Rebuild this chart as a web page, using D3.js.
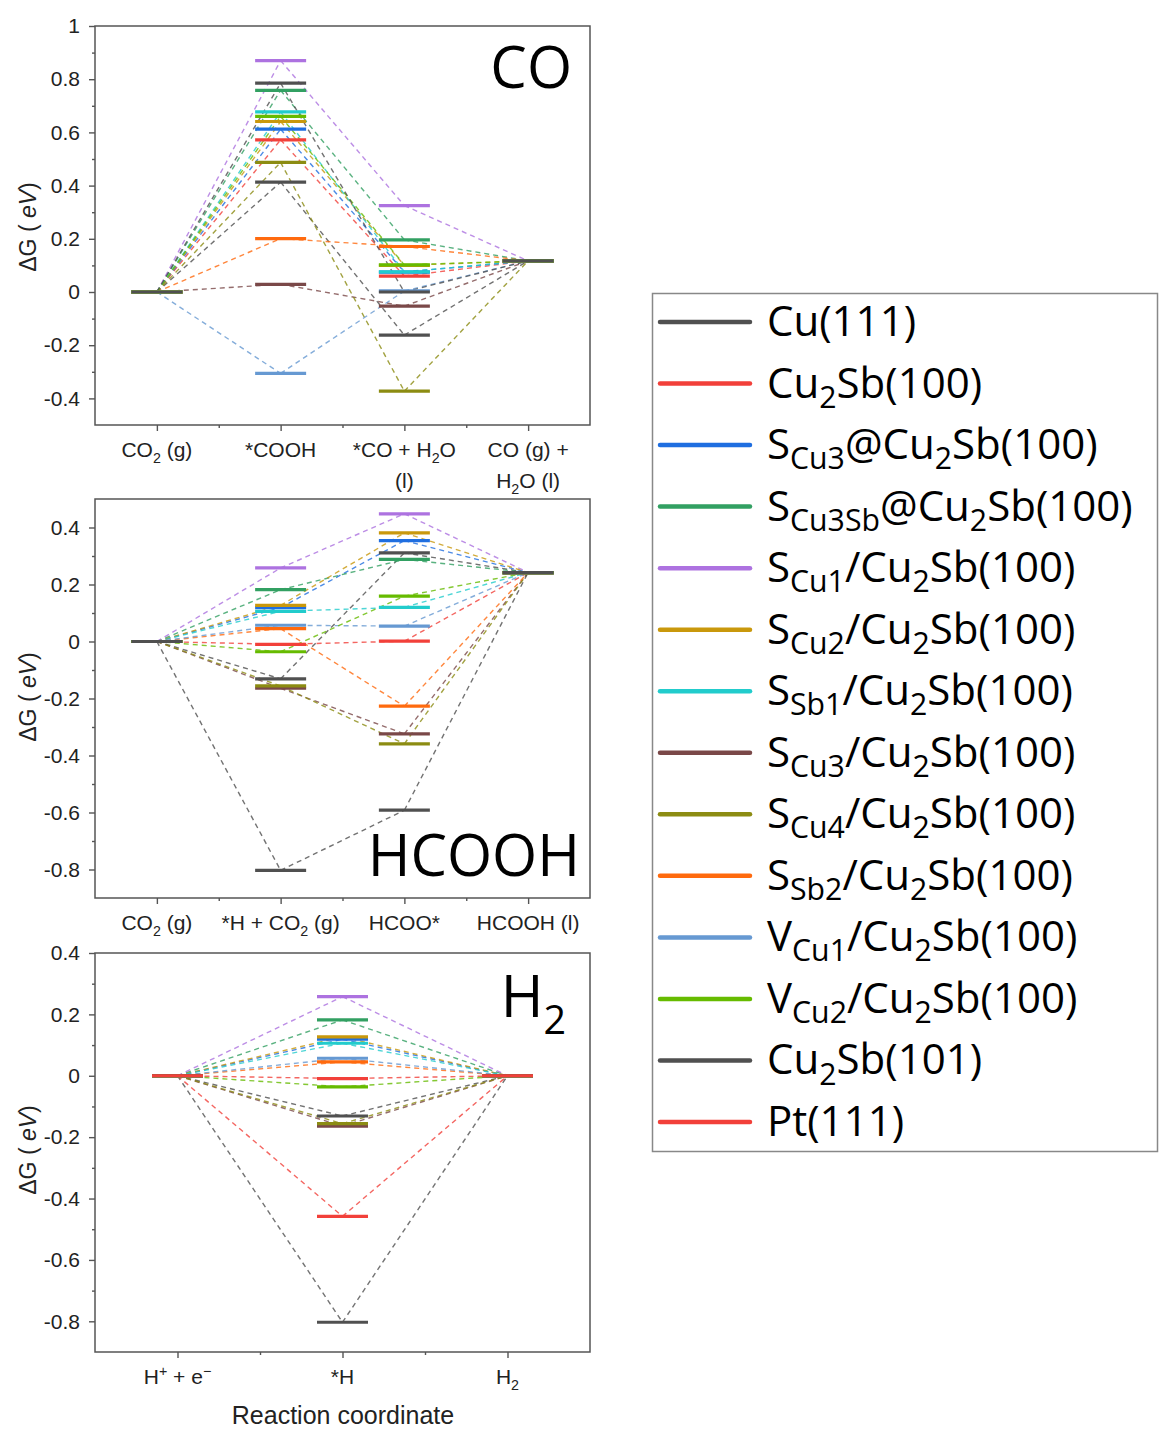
<!DOCTYPE html>
<html>
<head>
<meta charset="utf-8">
<script src="https://cdn.jsdelivr.net/npm/d3@7"></script>
<style>
  html, body { margin: 0; padding: 0; background: #fff; }
  svg { display: block; }
</style>
</head>
<body>
<svg id="chart" width="1159" height="1429"></svg>
<script>
// Surfaces (series), in drawing order
const seriesNames = [
  "Cu(111)", "Cu_{2}Sb(100)", "S_{Cu3}@Cu_{2}Sb(100)", "S_{Cu3Sb}@Cu_{2}Sb(100)",
  "S_{Cu1}/Cu_{2}Sb(100)", "S_{Cu2}/Cu_{2}Sb(100)", "S_{Sb1}/Cu_{2}Sb(100)",
  "S_{Cu3}/Cu_{2}Sb(100)", "S_{Cu4}/Cu_{2}Sb(100)", "S_{Sb2}/Cu_{2}Sb(100)",
  "V_{Cu1}/Cu_{2}Sb(100)", "V_{Cu2}/Cu_{2}Sb(100)", "Cu_{2}Sb(101)", "Pt(111)"
];
const seriesColors = [
  "#505050", "#f2403a", "#1f6ee0", "#32a062", "#ad72e0", "#c9980c", "#22cccc",
  "#7a4848", "#8c8c12", "#ff6a0e", "#6699d2", "#66bb00", "#505050", "#f2403a"
];

// CO pathway
const coSteps = [["CO_{2} (g)"], ["*COOH"], ["*CO + H_{2}O", "(l)"], ["CO (g) +", "H_{2}O (l)"]];
const coValues = [
  [0, 0.413, -0.162, 0.117],
  [0, 0.572, 0.060, 0.117],
  [0, 0.612, 0.075, 0.117],
  [0, 0.758, 0.196, 0.117],
  [0, 0.870, 0.325, 0.117],
  [0, 0.641, 0.100, 0.117],
  [0, 0.677, 0.076, 0.117],
  [0, 0.029, -0.053, 0.117],
  [0, 0.487, -0.373, 0.117],
  [0, 0.201, 0.171, 0.117],
  [0, -0.306, 0.004, 0.117],
  [0, 0.660, 0.102, 0.117],
  [0, 0.785, 0.000, 0.117]
];
const coTicks = [-0.4, -0.2, 0, 0.2, 0.4, 0.6, 0.8, 1];

// HCOOH pathway
const hcoohSteps = [["CO_{2} (g)"], ["*H + CO_{2} (g)"], ["HCOO*"], ["HCOOH (l)"]];
const hcoohValues = [
  [0, -0.131, 0.311, 0.242],
  [0, -0.010, 0.001, 0.242],
  [0, 0.119, 0.354, 0.242],
  [0, 0.182, 0.288, 0.242],
  [0, 0.258, 0.448, 0.242],
  [0, 0.127, 0.381, 0.242],
  [0, 0.106, 0.120, 0.242],
  [0, -0.164, -0.324, 0.242],
  [0, -0.156, -0.359, 0.242],
  [0, 0.045, -0.227, 0.242],
  [0, 0.057, 0.054, 0.242],
  [0, -0.036, 0.159, 0.242],
  [0, -0.803, -0.592, 0.242]
];
const hcoohTicks = [-0.8, -0.6, -0.4, -0.2, 0, 0.2, 0.4];

// Hydrogen evolution
const h2Steps = [["H^{+} + e^{−}"], ["*H"], ["H_{2}"]];
const h2Values = [
  [0, -0.131, 0],
  [0, -0.009, 0],
  [0, 0.119, 0],
  [0, 0.182, 0],
  [0, 0.258, 0],
  [0, 0.127, 0],
  [0, 0.106, 0],
  [0, -0.164, 0],
  [0, -0.156, 0],
  [0, 0.045, 0],
  [0, 0.057, 0],
  [0, -0.036, 0],
  [0, -0.803, 0],
  [0, -0.458, 0]
];
const h2Ticks = [-0.8, -0.6, -0.4, -0.2, 0, 0.2, 0.4];

const svg = d3.select("#chart");
const axisFont = "'Liberation Sans', Arial, sans-serif";
const labelFont = "'Open Sans', 'Noto Sans', sans-serif";
const frameColor = "#555";
const tickFs = 21;

// Text with _{sub} and ^{sup} markup, written as tspans
function richText(textSel, str, fs, subScale = 0.68, subShift = 0.3) {
  const re = /([_^])\{([^}]*)\}|([^_^]+)/g;
  let shift = 0, m;
  while ((m = re.exec(str))) {
    if (m[3]) {
      textSel.append("tspan").attr("dy", -shift).text(m[3]);
      shift = 0;
    } else {
      const s = m[1] === "_" ? fs * subShift : -fs * 0.4;
      textSel.append("tspan").attr("dy", s - shift)
        .style("font-size", (fs * subScale) + "px").text(m[2]);
      shift = s;
    }
  }
}

const panels = [
  { steps: coSteps, values: coValues, domain: [-0.5, 1], top: 26, bottom: 425,
    ticks: coTicks, title: "CO", titleX: 572, titleY: 88, yLabelY: 227 },
  { steps: hcoohSteps, values: hcoohValues, domain: [-0.9, 0.5], top: 499, bottom: 898,
    ticks: hcoohTicks, title: "HCOOH", titleX: 580, titleY: 876, yLabelY: 697 },
  { steps: h2Steps, values: h2Values, domain: [-0.9, 0.4], top: 953, bottom: 1352,
    ticks: h2Ticks, title: "H_{2}", titleX: 566, titleY: 1017, yLabelY: 1150,
    xTitle: "Reaction coordinate" }
];

const left = 95, right = 590, barHalf = 25.5;

panels.forEach(p => {
  const n = p.steps.length;
  const x = d3.scaleLinear().domain([0.5, n + 0.5]).range([left, right]);
  const y = d3.scaleLinear().domain(p.domain).range([p.bottom, p.top]);
  const g = svg.append("g");

  // minor y ticks at odd tenths inside the frame
  const minorY = d3.range(Math.round(p.domain[0] * 10), Math.round(p.domain[1] * 10) + 1)
    .filter(k => Math.abs(k) % 2 === 1 && k / 10 > p.domain[0] && k / 10 < p.domain[1])
    .map(k => k / 10);
  const minorX = d3.range(1, n).map(i => i + 0.5);

  const yAxis = g.append("g").attr("transform", `translate(${left},0)`)
    .call(d3.axisLeft(y).tickValues(p.ticks).tickSize(6).tickPadding(9)
      .tickFormat(v => String(+v.toFixed(1))));
  yAxis.select(".domain").remove();
  yAxis.selectAll("line").attr("stroke", frameColor).attr("stroke-width", 1.4);
  yAxis.selectAll("text").style("font-family", axisFont).style("font-size", tickFs + "px")
    .attr("fill", "#222");
  g.append("g").attr("transform", `translate(${left},0)`)
    .call(d3.axisLeft(y).tickValues(minorY).tickSize(3).tickFormat(""))
    .call(a => a.select(".domain").remove())
    .selectAll("line").attr("stroke", frameColor).attr("stroke-width", 1.4);

  const xAxis = g.append("g").attr("transform", `translate(0,${p.bottom})`)
    .call(d3.axisBottom(x).tickValues(d3.range(1, n + 1)).tickSize(6).tickFormat(""));
  xAxis.select(".domain").remove();
  xAxis.selectAll("line").attr("stroke", frameColor).attr("stroke-width", 1.4);
  g.append("g").attr("transform", `translate(0,${p.bottom})`)
    .call(d3.axisBottom(x).tickValues(minorX).tickSize(3).tickFormat(""))
    .call(a => a.select(".domain").remove())
    .selectAll("line").attr("stroke", frameColor).attr("stroke-width", 1.4);

  // category labels
  p.steps.forEach((lines, i) => {
    lines.forEach((ln, j) => {
      const t = g.append("text").attr("x", x(i + 1)).attr("y", p.bottom + 32 + j * 31)
        .attr("text-anchor", "middle").style("font-family", axisFont)
        .style("font-size", tickFs + "px").attr("fill", "#222");
      richText(t, ln, tickFs);
    });
  });

  // y label
  const yl = g.append("text").attr("transform", `translate(36,${p.yLabelY}) rotate(-90)`)
    .attr("text-anchor", "middle").style("font-family", axisFont)
    .style("font-size", "23px").attr("fill", "#222");
  yl.append("tspan").text("ΔG ( ");
  yl.append("tspan").style("font-style", "italic").text("eV");
  yl.append("tspan").text(")");

  // connecting dashed lines (centre to centre)
  const lines = g.append("g");
  p.values.forEach((vals, s) => {
    for (let i = 0; i < vals.length - 1; i++) {
      lines.append("line")
        .attr("x1", x(i + 1)).attr("y1", y(vals[i]))
        .attr("x2", x(i + 2)).attr("y2", y(vals[i + 1]))
        .attr("stroke", seriesColors[s]).attr("stroke-width", 1.4)
        .attr("stroke-dasharray", "5,4").attr("opacity", 0.8);
    }
  });

  // energy levels
  const bars = g.append("g");
  p.values.forEach((vals, s) => {
    vals.forEach((v, i) => {
      bars.append("line")
        .attr("x1", x(i + 1) - barHalf).attr("x2", x(i + 1) + barHalf)
        .attr("y1", y(v)).attr("y2", y(v))
        .attr("stroke", seriesColors[s]).attr("stroke-width", 3.2);
    });
  });

  // frame
  g.append("rect").attr("x", left).attr("y", p.top)
    .attr("width", right - left).attr("height", p.bottom - p.top)
    .attr("fill", "none").attr("stroke", frameColor).attr("stroke-width", 1.5);

  // panel title
  const tt = g.append("text").attr("x", p.titleX).attr("y", p.titleY)
    .attr("text-anchor", "end").style("font-family", labelFont)
    .style("font-size", "58px").attr("fill", "#000");
  richText(tt, p.title, 58);

  if (p.xTitle) {
    g.append("text").attr("x", 343).attr("y", 1424)
      .attr("text-anchor", "middle").style("font-family", axisFont)
      .style("font-size", "25px").attr("fill", "#222").text(p.xTitle);
  }
});

// legend
const legend = svg.append("g");
legend.append("rect").attr("x", 652.5).attr("y", 293.5).attr("width", 505).attr("height", 858)
  .attr("fill", "#fff").attr("stroke", "#888").attr("stroke-width", 1.5);
const rowY = d3.scalePoint().domain(d3.range(seriesNames.length)).range([322, 1122]);
seriesNames.forEach((name, i) => {
  const yy = rowY(i);
  legend.append("line").attr("x1", 660).attr("x2", 750).attr("y1", yy).attr("y2", yy)
    .attr("stroke", seriesColors[i]).attr("stroke-width", 4.5).attr("stroke-linecap", "round");
  const t = legend.append("text").attr("x", 767).attr("y", yy + 14)
    .style("font-family", labelFont).style("font-size", "42px").attr("fill", "#000");
  richText(t, name, 42, 0.72, 0.24);
});
</script>
</body>
</html>
